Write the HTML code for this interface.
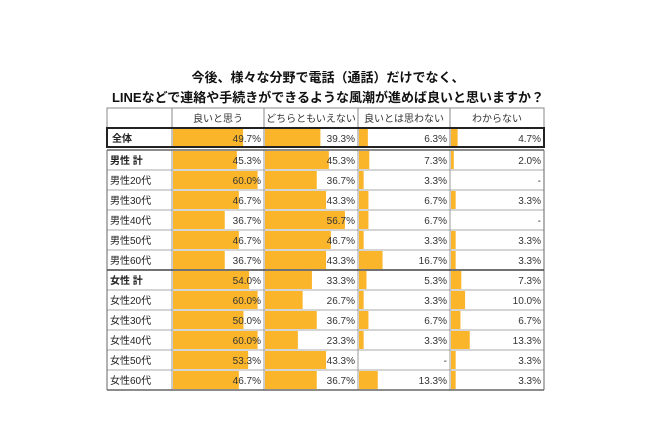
<!DOCTYPE html>
<html><head><meta charset="utf-8"><style>
body{margin:0;background:#fff;width:656px;height:438px;overflow:hidden;font-family:"Liberation Sans","Noto Sans CJK JP",sans-serif;}
</style></head><body>
<svg id="chart" width="656" height="438" xmlns="http://www.w3.org/2000/svg" font-family="Liberation Sans, Noto Sans CJK JP, sans-serif">
<text x="328" y="82" text-anchor="middle" font-size="13" font-weight="bold" fill="#111">今後、様々な分野で電話（通話）だけでなく、</text>
<text x="328" y="102" text-anchor="middle" font-size="13" font-weight="bold" fill="#111">LINEなどで連絡や手続きができるような風潮が進めば良いと思いますか？</text>
<g id="tbl"></g>
</svg>
<script>
const categories = ["良いと思う","どちらともいえない","良いとは思わない","わからない"];
const rowLabels = ["全体","男性 計","男性20代","男性30代","男性40代","男性50代","男性60代","女性 計","女性20代","女性30代","女性40代","女性50代","女性60代"];
const seriesGood = [49.7,45.3,60.0,46.7,36.7,46.7,36.7,54.0,60.0,50.0,60.0,53.3,46.7];
const seriesNeither = [39.3,45.3,36.7,43.3,56.7,46.7,43.3,33.3,26.7,36.7,23.3,43.3,36.7];
const seriesBad = [6.3,7.3,3.3,6.7,6.7,3.3,16.7,5.3,3.3,6.7,3.3,null,13.3];
const seriesUnknown = [4.7,2.0,null,3.3,null,3.3,3.3,7.3,10.0,6.7,13.3,3.3,3.3];
const boldRows = [0,1,7];

const NS="http://www.w3.org/2000/svg";
const g=document.getElementById('tbl');
const colX=[107,172,264,358,450,544];
const scale=1.41;
function xBar(col,v){return v*scale;}
function rowY(i){return i===0?128:150+(i-1)*20;}
function mk(tag,attrs){const e=document.createElementNS(NS,tag);for(const k in attrs)e.setAttribute(k,attrs[k]);g.appendChild(e);return e;}
const series=[seriesGood,seriesNeither,seriesBad,seriesUnknown];

// header
categories.forEach((c,j)=>{
  const t=mk('text',{x:(colX[j+1]+colX[j+2])/2,y:122,'text-anchor':'middle','font-size':'10',fill:'#333'});
  
  
  t.textContent=c;
});
const hb=mk('rect',{x:107,y:108,width:437,height:20,fill:'none',stroke:'#888','stroke-width':'1'});



rowLabels.forEach((lab,i)=>{
  const y=rowY(i),h=i===0?19:20;
  const lt=mk('text',{x:i===0?112:110,y:y+14,'font-size':'10',fill:'#222','font-weight':boldRows.includes(i)?'bold':'normal'});
  
  
  lt.textContent=lab;
  series.forEach((s,j)=>{
    const v=s[i];
    const x0=colX[j+1];
    if(v!==null){
      const b=mk('rect',{x:x0+1,y:y+1,width:xBar(j,v),height:h-2,fill:'#fbb52b'});
      
      
    }
    const vt=mk('text',{x:colX[j+2]-3,y:y+14,'text-anchor':'end','font-size':'10',fill:'#333'});
    
    
    vt.textContent=v===null?'-':v.toFixed(1)+'%';
  });
  if(i>0){
    const ln=mk('line',{x1:107,x2:544,y1:y+h,y2:y+h,stroke:'#aaa','stroke-width':'1'});
    
    
  }
});
// vertical lines
colX.forEach((x,k)=>{
  const a=mk('line',{x1:x,x2:x,y1:108,y2:147,stroke:'#888','stroke-width':'1'});
  
  
  const b=mk('line',{x1:x,x2:x,y1:150,y2:390,stroke:k===0||k===5?'#666':'#999','stroke-width':'1'});
  
  
});
const tb=mk('rect',{x:107,y:128,width:437,height:19,fill:'none',stroke:'#222','stroke-width':'2'});


const t1=mk('line',{x1:107,x2:544,y1:150,y2:150,stroke:'#666','stroke-width':'1.5'});


const t2=mk('line',{x1:107,x2:544,y1:270,y2:270,stroke:'#444','stroke-width':'1.5'});


const t3=mk('line',{x1:107,x2:544,y1:390,y2:390,stroke:'#666','stroke-width':'1.5'});


</script>
</body></html>
